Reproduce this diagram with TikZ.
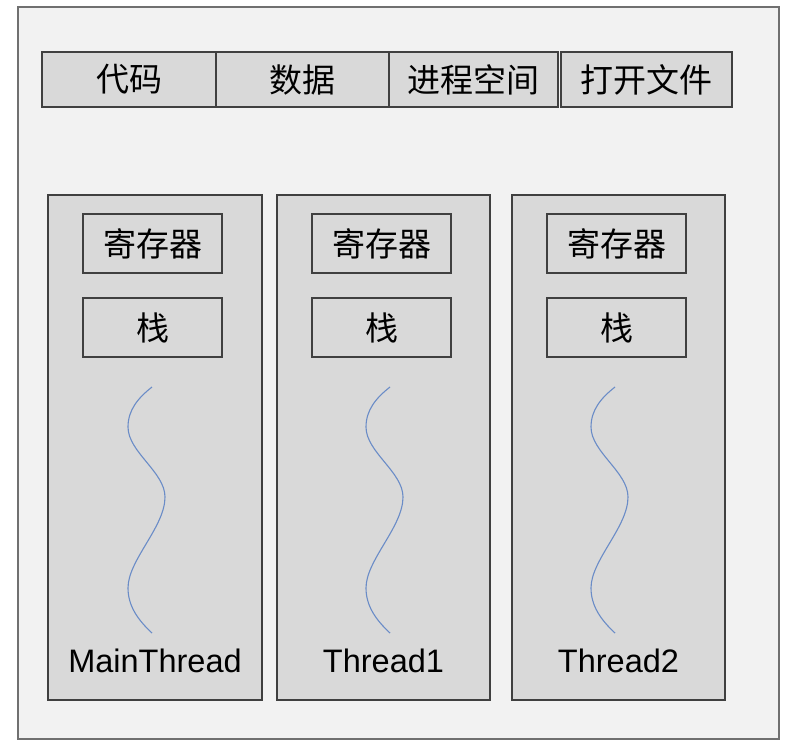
\documentclass[tikz,border=0pt]{standalone}
\usepackage{fontspec}
\setmainfont{Liberation Sans}
\newfontfamily\cjk{Noto Sans CJK SC}
\definecolor{outerfill}{HTML}{F2F2F2}
\definecolor{boxfill}{HTML}{D9D9D9}
\definecolor{edge}{HTML}{404040}
\definecolor{outeredge}{HTML}{707070}
\definecolor{wave}{HTML}{6A8CC7}
\begin{document}
\begin{tikzpicture}[x=1pt,y=-1pt,
  cell/.style={draw=edge,fill=boxfill,line width=1.1pt},
  cjktext/.style={font=\cjk\fontsize{33}{38}\selectfont,text=black},
  thlabel/.style={font=\fontsize{32.5}{38}\selectfont,text=black},
  wavy/.style={draw=wave,line width=1.1pt}]
\useasboundingbox (0,0) rectangle (802,752);
\fill[white] (0,0) rectangle (802,752);
% outer frame
\draw[draw=outeredge,fill=outerfill,line width=1.2pt] (18,7) rectangle (779,739);
% top row
\draw[cell] (42,52) rectangle (216,107);
\draw[cell] (216,52) rectangle (389,107);
\draw[cell] (389,52) rectangle (558,107);
\draw[cell] (561,52) rectangle (732,107);
\node[cjktext] (code) at (129,79.5) {代码};
\node[cjktext] (data) at (302.5,79.5) {数据};
\node[cjktext] (space) at (473.5,79.5) {进程空间};
\node[cjktext] (files) at (646.5,79.5) {打开文件};
% threads
\foreach \xl/\xr/\ix/\name/\lab in {48/262/0/main/MainThread, 277/490/238/one/Thread1, 512/725/463/two/Thread2}{
  \draw[cell] (\xl,195) rectangle (\xr,700);
  \pgfmathsetmacro{\il}{\xl+35}
  \pgfmathsetmacro{\ir}{\xl+174}
  \pgfmathsetmacro{\cx}{(\il+\ir)/2}
  \draw[cell] (\il,214) rectangle (\ir,273);
  \draw[cell] (\il,298) rectangle (\ir,357);
  \node[cjktext] (reg\name) at (\cx,243.5) {寄存器};
  \node[cjktext] (stk\name) at (\cx,327.5) {栈};
  \begin{scope}[xshift=\ix]
    \draw[wavy] (152,387) .. controls (138,398) and (128,410) .. (128,427)
      .. controls (128,452) and (165,472) .. (165,497)
      .. controls (165,527) and (128,560) .. (128,588)
      .. controls (128,606) and (138,620) .. (152,633);
  \end{scope}
  \pgfmathsetmacro{\lx}{(\xl+\xr)/2}
  \node[thlabel] (lab\name) at (\lx,661) {\lab};
}
\end{tikzpicture}
\end{document}
